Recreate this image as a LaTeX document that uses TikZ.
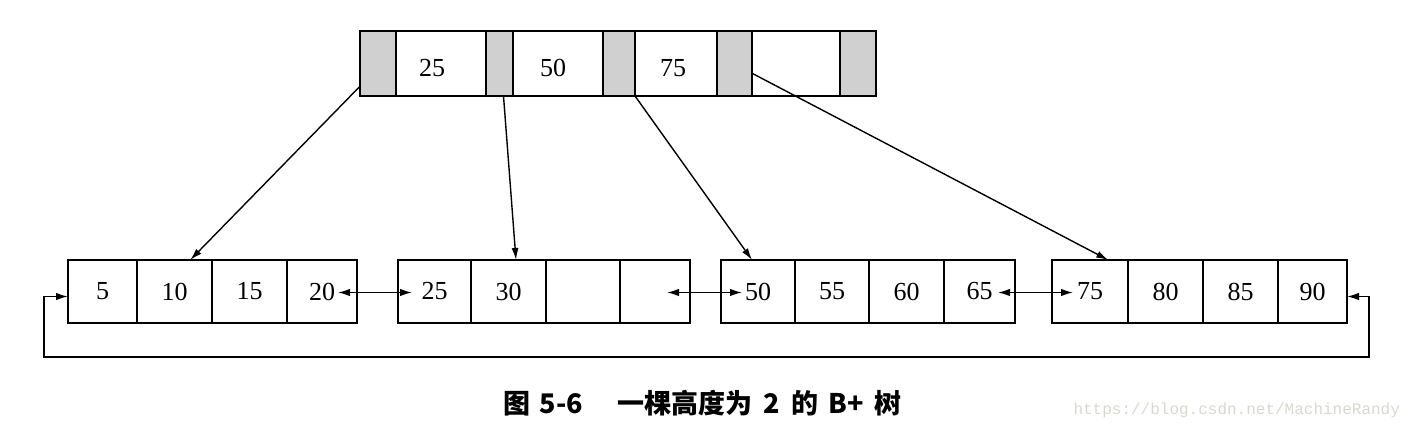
\documentclass[tikz,border=0pt]{standalone}
\usepackage{fontspec}
\setmainfont{Liberation Serif}
\newfontfamily\cjkfont{Noto Sans CJK SC}
\newfontfamily\wmfont{Liberation Mono}
\usetikzlibrary{arrows.meta,calc}
\definecolor{shade}{RGB}{208,208,208}
\definecolor{wmgray}{RGB}{216,216,208}
\begin{document}
\begin{tikzpicture}[x=1pt,y=-1pt,
  cellbox/.style={draw, line width=1.4pt, inner sep=0pt, outer sep=0pt, anchor=north west,
    font=\fontsize{26}{26}\selectfont},
  topcell/.style={cellbox, minimum height=65pt, text height=26pt, text depth=0pt},
  greycell/.style={topcell, fill=shade},
  leafcell/.style={cellbox, minimum height=63pt},
  arr/.style={line width=1.4pt, -{Latex[length=12pt,width=7pt]}},
  dbl/.style={line width=1.4pt, {Latex[length=12pt,width=7.5pt]}-{Latex[length=12pt,width=7.5pt]}}
]
\useasboundingbox (0,0) rectangle (1423,431);
% top node
\node[greycell, minimum width=36pt] (g1) at (360,31) {};
\node[topcell, minimum width=90pt] (t1) at (396,31) {\hspace*{-18pt}25};
\node[greycell, minimum width=27pt] (g2) at (486,31) {};
\node[topcell, minimum width=90pt] (t2) at (513,31) {\hspace*{-10pt}50};
\node[greycell, minimum width=32pt] (g3) at (603,31) {};
\node[topcell, minimum width=82pt] (t3) at (635,31) {\hspace*{-6pt}75};
\node[greycell, minimum width=35pt] (g4) at (717,31) {};
\node[topcell, minimum width=88pt] (t4) at (752,31) {};
\node[greycell, minimum width=36pt] (g5) at (840,31) {};
% leaf 1
\node[leafcell, minimum width=69pt] (l1a) at (68,260) {5};
\node[leafcell, minimum width=75pt] (l1b) at (137,260) {10};
\node[leafcell, minimum width=75pt] (l1c) at (212,260) {15};
\node[leafcell, minimum width=70pt] (l1d) at (287,260) {20};
% leaf 2
\node[leafcell, minimum width=73pt] (l2a) at (398,260) {25};
\node[leafcell, minimum width=75pt] (l2b) at (471,260) {30};
\node[leafcell, minimum width=74pt] (l2c) at (546,260) {};
\node[leafcell, minimum width=70pt] (l2d) at (620,260) {};
% leaf 3
\node[leafcell, minimum width=74pt] (l3a) at (721,260) {50};
\node[leafcell, minimum width=74pt] (l3b) at (795,260) {55};
\node[leafcell, minimum width=75pt] (l3c) at (869,260) {60};
\node[leafcell, minimum width=71pt] (l3d) at (944,260) {65};
% leaf 4
\node[leafcell, minimum width=76pt] (l4a) at (1052,260) {75};
\node[leafcell, minimum width=75pt] (l4b) at (1128,260) {80};
\node[leafcell, minimum width=75pt] (l4c) at (1203,260) {85};
\node[leafcell, minimum width=69pt] (l4d) at (1278,260) {90};
% tree pointers
\draw[arr] ($(g1.south west)!0.15!(g1.north west)$) -- ($(l1b.north west)!0.71!(l1b.north east)$);
\draw[arr] ($(g2.south)+(4,0)$) -- ($(l2b.north west)!0.6!(l2b.north east)$);
\draw[arr] (g3.south east) -- ($(l3a.north west)!0.42!(l3a.north east)$);
\draw[arr] ($(g4.south east)!0.35!(g4.north east)$) -- ($(l4a.north west)!0.74!(l4a.north east)$);
% sibling pointers
\draw[dbl] ($(l1d.east)+(-19,1)$) -- ($(l2a.west)+(14,1)$);
\draw[dbl] ($(l2d.east)+(-23,1)$) -- ($(l3a.west)+(21,1)$);
\draw[dbl] ($(l3d.east)+(-17,1)$) -- ($(l4a.west)+(21,1)$);
% wrap-around pointer
\coordinate (bl) at (44,357);
\coordinate (br) at (1369,357);
\draw[dbl] ($(l1a.west)+(0,5)$) -| (bl) -- (br) |- ($(l4d.east)+(0,5)$);
% caption
\node[font=\cjkfont\bfseries\fontsize{27}{27}\selectfont, anchor=west, inner sep=0pt] (cap) at (503,403)
  {图\hspace{0.35em}5-6\hspace{1.3em}一棵高度为\hspace{0.4em}2\hspace{0.4em}的\hspace{0.4em}B+\hspace{0.4em}树};
\node[font=\wmfont\fontsize{16}{16}\selectfont, text=wmgray, anchor=west] (wmk) at (1070,410) {https://blog.csdn.net/MachineRandy};
\end{tikzpicture}
\end{document}
